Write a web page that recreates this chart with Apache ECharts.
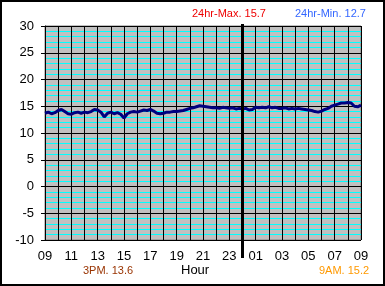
<!DOCTYPE html>
<html><head><meta charset="utf-8">
<script src="https://cdn.jsdelivr.net/npm/echarts@6/dist/echarts.min.js"></script>
<style>
html,body{margin:0;padding:0;background:#fff;}
#c{width:385px;height:286px;box-sizing:border-box;border:2px solid #000;position:relative;}
#chart{position:absolute;left:-2px;top:-2px;width:385px;height:286px;}
</style></head>
<body><div id="c"><div id="chart"></div></div>
<script>
// Temperature every 15 minutes, starting 09:00 (hour offset 0) to 09:00 next day (24)
const temps = [
 13.7,13.9,13.6,13.8, 14.2,14.4,14.0,13.6, 13.5,13.8,13.9,13.7,
 13.9,13.8,14.0,14.4, 14.3,13.9,13.0,13.7, 13.9,13.6,13.8,13.5,
 12.8,13.6,13.9,14.0, 13.9,14.1,14.3,14.2, 14.4,14.1,13.7,13.6,
 13.7,13.9,13.9,14.0, 14.0,14.1,14.2,14.4, 14.6,14.7,14.9,15.1,
 15.0,14.9,14.8,14.7, 14.7,14.6,14.8,14.7, 14.6,14.7,14.5,14.6,
 14.5,14.6,14.3,14.4, 14.8,14.7,14.8,14.7, 14.9,14.7,14.8,14.6,
 14.6,14.7,14.5,14.6, 14.5,14.6,14.5,14.4, 14.3,14.2,14.0,13.9,
 14.1,14.4,14.6,15.0, 15.2,15.4,15.6,15.6, 15.7,15.6,15.0,14.9,
 15.2
];
const stepHours = 0.25;
const startHour = 9;
const midnightOffset = 15;
const yTicks = {min:-10, max:30, interval:5};
const maxText = '24hr-Max. 15.7';
const minText = '24hr-Min. 12.7';
const pmText = '3PM. 13.6';
const amText = '9AM. 15.2';
const xName = 'Hour';

const data = temps.map((v,i)=>[i*stepHours, v]);
const font = 'Liberation Sans, Arial, sans-serif';
const chart = echarts.init(document.getElementById('chart'), null, {renderer:'canvas'});
chart.setOption({
  animation:false,
  grid:{left:45,right:24,top:26,bottom:46,show:true,backgroundColor:'#c0c0c0',borderColor:'#808080',borderWidth:1},
  xAxis:{type:'value',min:0,max:24,interval:2,
    axisLine:{lineStyle:{color:'#000',width:1}},
    axisTick:{show:true,length:4,lineStyle:{color:'#000'}},
    axisLabel:{color:'#000',fontFamily:font,fontSize:13,margin:10,
      formatter:v=>String((startHour+v)%24).padStart(2,'0')},
    splitLine:{show:true,lineStyle:{color:'#000',width:1}},
    minorTick:{show:false,splitNumber:2},
    minorSplitLine:{show:true,lineStyle:{color:'#000',width:1}}
  },
  yAxis:{type:'value',min:yTicks.min,max:yTicks.max,interval:yTicks.interval,
    axisLine:{show:true,lineStyle:{color:'#000',width:1}},
    axisTick:{show:true,length:4,lineStyle:{color:'#000'}},
    axisLabel:{color:'#000',fontFamily:font,fontSize:13,margin:11},
    splitLine:{show:true,lineStyle:{color:'#000',width:1}},
    minorTick:{show:false,splitNumber:5},
    minorSplitLine:{show:true,lineStyle:{color:'#00ffff',width:1}}
  },
  series:[{type:'line',data:data,showSymbol:false,symbol:'none',
    lineStyle:{color:'#000080',width:3},z:5}]
});
const pTop = chart.convertToPixel({gridIndex:0},[midnightOffset,yTicks.max]);
const pBot = chart.convertToPixel({gridIndex:0},[midnightOffset,yTicks.min]);
chart.setOption({graphic:[
  {type:'line',shape:{x1:pTop[0],y1:pTop[1]-2,x2:pBot[0],y2:pBot[1]+18},style:{stroke:'#000',lineWidth:3},z:10},
  {type:'text',left:192,top:8,style:{text:maxText,fill:'#ee0000',font:'11px '+font}},
  {type:'text',left:295,top:8,style:{text:minText,fill:'#3366ff',font:'11px '+font}},
  {type:'text',left:83,top:265,style:{text:pmText,fill:'#993300',font:'11px '+font}},
  {type:'text',left:181,top:264,style:{text:xName,fill:'#000',font:'13px '+font}},
  {type:'text',left:319,top:265,style:{text:amText,fill:'#ff9900',font:'11px '+font}}
]});
</script></body></html>
